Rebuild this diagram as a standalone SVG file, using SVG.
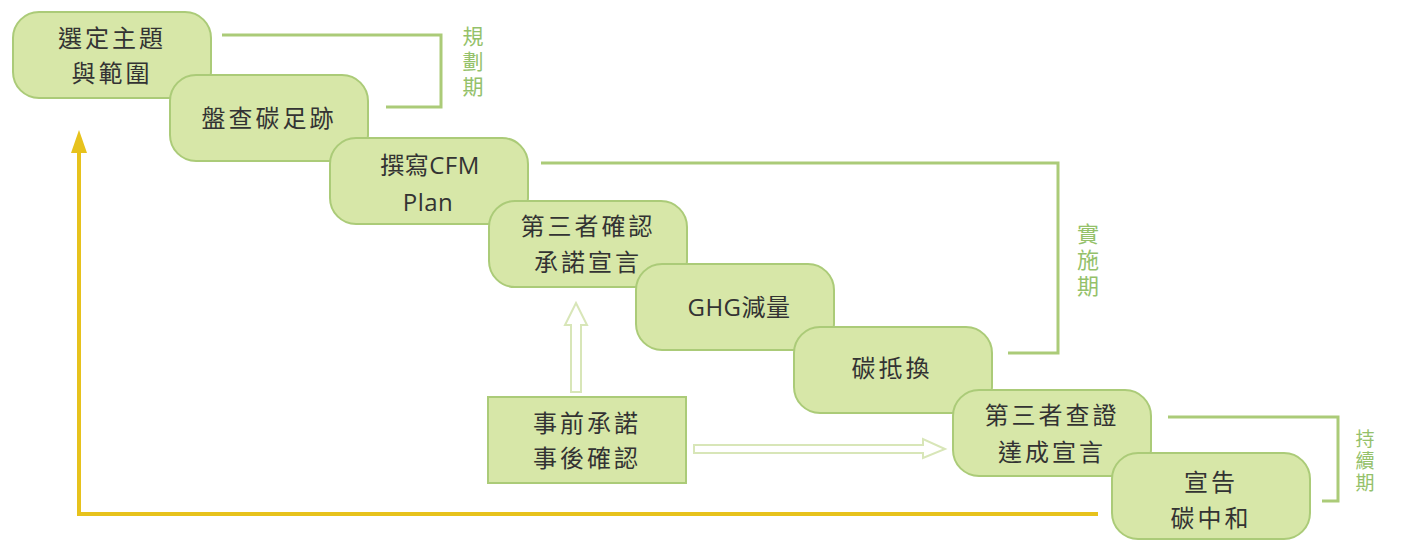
<svg xmlns="http://www.w3.org/2000/svg" width="1403" height="555" viewBox="0 0 1403 555">
<defs>
<style>
.box{fill:#d7e7a8;stroke:#abcb78;stroke-width:2}
.t{font-family:"Open Sans","Noto Sans CJK TC","Noto Sans CJK SC",sans-serif;font-size:24px;fill:#333;text-anchor:middle;dominant-baseline:central;letter-spacing:3px}
.lat{letter-spacing:0.5px}
.ph{font-family:"Noto Sans CJK TC","Noto Sans CJK SC",sans-serif;fill:#94c16a;writing-mode:vertical-rl;text-anchor:start}
.br{fill:none;stroke:#abcb78;stroke-width:3}
.hollow{fill:#fff;stroke:#d8e6b8;stroke-width:2}
</style>
</defs>
<rect width="1403" height="555" fill="#fff"/>
<g id="connectors">
<polyline class="br" points="222,35 441,35 441,107 386,107"/>
<polyline class="br" points="541,163 1058,163 1058,353 1008,353"/>
<polyline class="br" points="1168,417 1338,417 1338,501 1322,501"/>
<polyline fill="none" stroke="#e7c21c" stroke-width="4" points="1098,514 79,514 79,150"/>
<polygon fill="#e7c21c" points="79,130 71,153 87,153"/>
<polygon class="hollow" points="571,392 581,392 581,325 587,325 576,303 565,325 571,325"/>
<polygon class="hollow" points="694,445 923,445 923,439 945,449 923,458 923,453 694,453"/>
</g>
<g id="n1"><rect class="box" x="13" y="12" width="198" height="86" rx="26"/><text class="t" x="112" y="37">選定主題</text><text class="t" x="112" y="72">與範圍</text></g>
<g id="n2"><rect class="box" x="170" y="75" width="198" height="86" rx="26"/><text class="t" x="269" y="117">盤查碳足跡</text></g>
<g id="n3"><rect class="box" x="330" y="138" width="198" height="86" rx="26"/><text class="t lat" x="430" y="164">撰寫CFM</text><text class="t lat" x="428" y="201">Plan</text></g>
<g id="n4"><rect class="box" x="489" y="201" width="198" height="86" rx="26"/><text class="t" x="588" y="225">第三者確認</text><text class="t" x="588" y="261">承諾宣言</text></g>
<g id="n5"><rect class="box" x="636" y="264" width="198" height="86" rx="26"/><text class="t lat" x="739" y="306">GHG減量</text></g>
<g id="n6"><rect class="box" x="794" y="327" width="198" height="86" rx="26"/><text class="t" x="892" y="367">碳抵換</text></g>
<g id="n7"><rect class="box" x="953" y="390" width="198" height="86" rx="26"/><text class="t" x="1052" y="414">第三者查證</text><text class="t" x="1052" y="451">達成宣言</text></g>
<g id="n8"><rect class="box" x="1112" y="453" width="198" height="86" rx="26"/><text class="t" x="1211" y="481">宣告</text><text class="t" x="1211" y="517">碳中和</text></g>
<g id="n9"><rect class="box" x="488" y="397" width="198" height="86"/><text class="t" x="587" y="422">事前承諾</text><text class="t" x="587" y="457">事後確認</text></g>
<g id="phases">
<text class="ph" x="473" y="26" style="font-size:21px;letter-spacing:4px">規劃期</text>
<text class="ph" x="1088" y="223" style="font-size:22px;letter-spacing:4px">實施期</text>
<text class="ph" x="1365" y="429" style="font-size:19px;letter-spacing:3px">持續期</text>
</g>
</svg>
